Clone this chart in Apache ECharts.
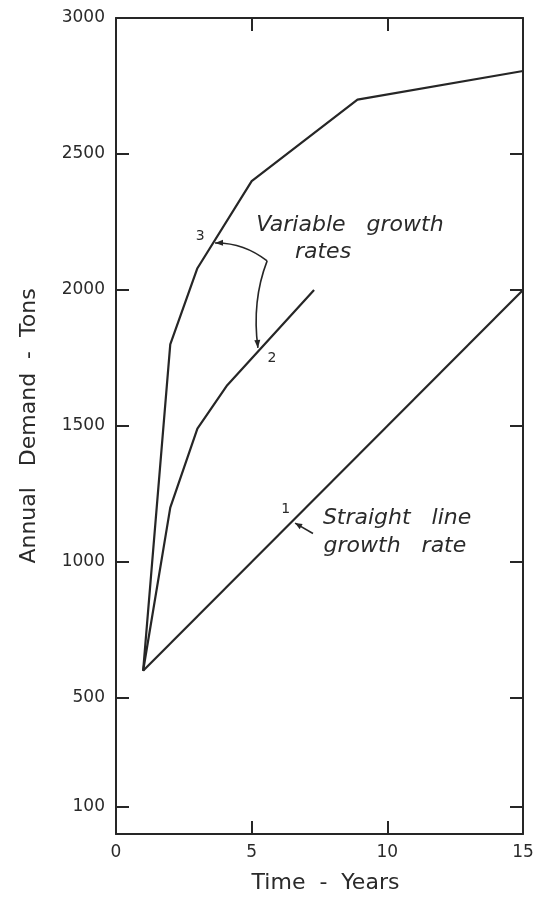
<!DOCTYPE html>
<html>
<head>
<meta charset="utf-8">
<script src="https://cdn.jsdelivr.net/npm/echarts@6/dist/echarts.min.js"></script>
<style>
html,body{margin:0;padding:0;background:#fff;}
#c{width:547px;height:900px;}
</style>
</head>
<body>
<div id="c"></div>
<script>
// ---- data ----
const years1 = [1, 15];
const demand1 = [600, 2000];
const years2 = [1, 2, 3, 4.1, 7.3];
const demand2 = [600, 1200, 1490, 1650, 2000];
const years3 = [1, 2, 3, 5, 8.9, 15];
const demand3 = [600, 1800, 2080, 2400, 2700, 2805];
const xTicks = [0, 5, 10, 15];
const yTicks = [100, 500, 1000, 1500, 2000, 2500, 3000];
const xName = 'Time  -  Years';
const yName = 'Annual   Demand  -  Tons';
// annotation texts with data-space anchors
const curveLabels = [
  { text: '3', at: [3.1, 2198] },
  { text: '2', at: [5.75, 1750] },
  { text: '1', at: [6.25, 1195] }
];
const notes = [
  { text: 'Variable   growth', at: [8.62, 2238] },
  { text: 'rates', at: [7.63, 2138] },
  { text: 'Straight   line', at: [10.36, 1162] },
  { text: 'growth   rate', at: [10.28, 1058] }
];

const INK = '#262626';
const FONT = 'DejaVu Sans';
const chart = echarts.init(document.getElementById('c'), null, { renderer: 'canvas' });

function pairs(xs, ys) { return xs.map((x, i) => [x, ys[i]]); }

const axisLineStyle = { show: true, onZero: false, lineStyle: { color: INK, width: 2 } };
const tickStyle = { show: true, inside: true, length: 13, lineStyle: { color: INK, width: 2 } };
const plain = v => String(v);

chart.setOption({
  animation: false,
  backgroundColor: '#fff',
  grid: { left: 116, top: 18, right: 24, bottom: 66 },
  xAxis: [
    {
      type: 'value', min: 0, max: 15, position: 'bottom',
      axisLine: axisLineStyle,
      axisTick: Object.assign({}, tickStyle, { customValues: xTicks }),
      splitLine: { show: false },
      axisLabel: { customValues: xTicks, formatter: plain, color: '#2a2a2a', fontFamily: FONT, fontSize: 17, margin: 10 },
      name: xName, nameLocation: 'middle', nameGap: 38,
      nameTextStyle: { color: '#2a2a2a', fontFamily: FONT, fontSize: 22, padding: [0, 0, 0, 12] }
    },
    {
      type: 'value', min: 0, max: 15, position: 'top',
      axisLine: axisLineStyle,
      axisTick: Object.assign({}, tickStyle, { customValues: xTicks }),
      splitLine: { show: false },
      axisLabel: { show: false }
    }
  ],
  yAxis: [
    {
      type: 'value', min: 0, max: 3000, position: 'left',
      axisLine: axisLineStyle,
      axisTick: Object.assign({}, tickStyle, { customValues: yTicks }),
      splitLine: { show: false },
      axisLabel: { customValues: yTicks, formatter: plain, color: '#2a2a2a', fontFamily: FONT, fontSize: 17, margin: 11 },
      name: yName, nameLocation: 'middle', nameGap: 76,
      nameTextStyle: { color: '#2a2a2a', fontFamily: FONT, fontSize: 22 }
    },
    {
      type: 'value', min: 0, max: 3000, position: 'right',
      axisLine: axisLineStyle,
      axisTick: Object.assign({}, tickStyle, { customValues: yTicks }),
      splitLine: { show: false },
      axisLabel: { show: false }
    }
  ],
  series: [
    { type: 'line', data: pairs(years1, demand1), symbol: 'none', lineStyle: { color: INK, width: 2.2 } },
    { type: 'line', data: pairs(years2, demand2), symbol: 'none', lineStyle: { color: INK, width: 2.2 } },
    { type: 'line', data: pairs(years3, demand3), symbol: 'none', lineStyle: { color: INK, width: 2.2 } }
  ]
});

function px(p) { return chart.convertToPixel({ gridIndex: 0 }, p); }
function arrowHead(tip, from, len, half) {
  const dx = tip[0] - from[0], dy = tip[1] - from[1];
  const d = Math.hypot(dx, dy) || 1;
  const ux = dx / d, uy = dy / d;
  const bx = tip[0] - ux * len, by = tip[1] - uy * len;
  return {
    type: 'polygon', silent: true,
    shape: { points: [tip, [bx - uy * half, by + ux * half], [bx + uy * half, by - ux * half]] },
    style: { fill: INK }
  };
}

const g = [];
curveLabels.forEach(l => {
  const p = px(l.at);
  g.push({ type: 'text', x: p[0], y: p[1], silent: true,
    style: { text: l.text, fill: '#2a2a2a', font: '14px "' + FONT + '"', align: 'center', verticalAlign: 'middle' } });
});
notes.forEach(n => {
  const p = px(n.at);
  g.push({ type: 'text', x: p[0], y: p[1], silent: true,
    style: { text: n.text, fill: '#2a2a2a', font: 'italic 22px "' + FONT + '"', align: 'center', verticalAlign: 'middle' } });
});

// leader from curve 3 to curve 2
const tip3 = px([3.65, 2173]);
const c1 = px([4.7, 2175]);
const corner = px([5.57, 2107]);
const c2 = px([5.0, 1960]);
const tip2 = px([5.23, 1787]);
g.push({ type: 'bezierCurve', silent: true,
  shape: { x1: corner[0], y1: corner[1], x2: tip3[0], y2: tip3[1], cpx1: c1[0], cpy1: c1[1] },
  style: { stroke: INK, lineWidth: 1.6, fill: null } });
g.push({ type: 'bezierCurve', silent: true,
  shape: { x1: corner[0], y1: corner[1], x2: tip2[0], y2: tip2[1], cpx1: c2[0], cpy1: c2[1] },
  style: { stroke: INK, lineWidth: 1.6, fill: null } });
g.push(arrowHead(tip3, c1, 8, 3));
g.push(arrowHead(tip2, px([5.18, 1850]), 8, 3));

// leader to curve 1
const tip1 = px([6.6, 1143]);
const tail1 = px([7.26, 1105]);
g.push({ type: 'line', silent: true,
  shape: { x1: tail1[0], y1: tail1[1], x2: tip1[0], y2: tip1[1] },
  style: { stroke: INK, lineWidth: 1.6 } });
g.push(arrowHead(tip1, tail1, 7, 3));

chart.setOption({ graphic: g });
</script>
</body>
</html>
